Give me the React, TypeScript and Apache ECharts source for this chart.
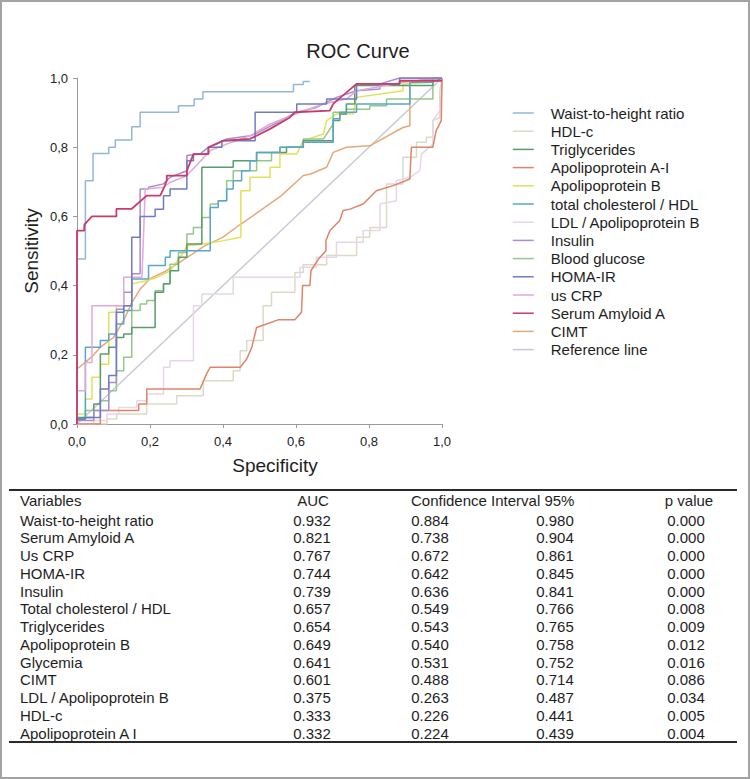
import React, { useEffect, useRef } from "react";
import * as echarts from "echarts";

const FONT = "'Liberation Sans', Arial, Helvetica, sans-serif";

// ---------- Curve data (x = 1 - specificity, y = sensitivity) ----------
const waistToHeightRatio = [[0,0],[0,0.477],[0.023,0.477],[0.023,0.703],[0.044,0.703],[0.044,0.782],[0.087,0.782],[0.087,0.8],[0.105,0.8],[0.105,0.821],[0.15,0.821],[0.15,0.859],[0.173,0.859],[0.173,0.901],[0.278,0.901],[0.278,0.92],[0.321,0.92],[0.321,0.939],[0.345,0.939],[0.345,0.96],[0.593,0.96],[0.593,0.981],[0.62,0.981],[0.62,0.99],[0.638,0.99]];
const hdlC = [[0,0],[0.082,0],[0.082,0.0145],[0.109,0.0145],[0.109,0.029],[0.191,0.029],[0.191,0.058],[0.273,0.058],[0.273,0.082],[0.346,0.082],[0.346,0.125],[0.428,0.125],[0.428,0.154],[0.447,0.154],[0.447,0.212],[0.465,0.212],[0.465,0.241],[0.51,0.241],[0.51,0.342],[0.533,0.342],[0.533,0.381],[0.597,0.381],[0.597,0.438],[0.62,0.438],[0.62,0.46],[0.684,0.46],[0.684,0.487],[0.766,0.487],[0.766,0.54],[0.802,0.54],[0.802,0.568],[0.848,0.568],[0.848,0.694],[0.893,0.694],[0.893,0.771],[0.93,0.771],[0.93,0.814],[0.957,0.814],[0.957,0.829],[0.975,0.829],[0.975,0.877],[0.994,0.886],[0.994,0.963],[1,1]];
const triglycerides = [[0,0],[0,0.019],[0.046,0.019],[0.046,0.058],[0.064,0.058],[0.064,0.202],[0.087,0.202],[0.087,0.222],[0.108,0.222],[0.108,0.25],[0.128,0.25],[0.128,0.26],[0.15,0.26],[0.15,0.279],[0.214,0.279],[0.214,0.381],[0.237,0.381],[0.237,0.405],[0.255,0.405],[0.255,0.443],[0.278,0.443],[0.278,0.482],[0.301,0.482],[0.301,0.52],[0.342,0.52],[0.342,0.742],[0.428,0.742],[0.428,0.761],[0.492,0.761],[0.492,0.785],[0.574,0.785],[0.574,0.8],[0.62,0.8],[0.62,0.819],[0.702,0.819],[0.702,0.877],[0.72,0.877],[0.72,0.896],[0.738,0.896],[0.738,0.925],[0.761,0.925],[0.761,0.978],[0.975,0.978],[0.975,1],[1,1]];
const apolipoproteinAI = [[0,0],[0.064,0],[0.064,0.039],[0.169,0.039],[0.169,0.058],[0.191,0.058],[0.191,0.101],[0.337,0.101],[0.355,0.145],[0.365,0.164],[0.447,0.164],[0.465,0.188],[0.479,0.222],[0.492,0.279],[0.551,0.301],[0.597,0.301],[0.615,0.323],[0.618,0.4],[0.638,0.4],[0.641,0.443],[0.661,0.476],[0.682,0.501],[0.682,0.53],[0.693,0.559],[0.72,0.588],[0.729,0.617],[0.748,0.621],[0.784,0.636],[0.82,0.674],[0.866,0.689],[0.912,0.708],[0.916,0.8],[0.975,0.8],[0.984,0.848],[0.998,0.877],[1,1]];
const apolipoproteinB = [[0,0],[0,0.029],[0.023,0.029],[0.023,0.072],[0.041,0.072],[0.041,0.135],[0.064,0.135],[0.064,0.173],[0.087,0.173],[0.087,0.323],[0.108,0.323],[0.108,0.342],[0.15,0.342],[0.15,0.405],[0.191,0.414],[0.219,0.424],[0.255,0.443],[0.283,0.482],[0.301,0.515],[0.346,0.52],[0.401,0.53],[0.449,0.54],[0.449,0.674],[0.474,0.674],[0.474,0.713],[0.529,0.713],[0.529,0.742],[0.556,0.742],[0.556,0.78],[0.602,0.78],[0.62,0.819],[0.675,0.838],[0.684,0.877],[0.711,0.896],[0.757,0.896],[0.766,0.944],[0.893,0.963],[0.893,0.983],[0.975,0.988],[1,1]];
const totalCholesterolHdl = [[0,0],[0,0.0145],[0.023,0.0145],[0.023,0.222],[0.064,0.222],[0.064,0.241],[0.087,0.241],[0.087,0.26],[0.108,0.26],[0.108,0.289],[0.128,0.289],[0.128,0.328],[0.15,0.328],[0.15,0.419],[0.196,0.419],[0.196,0.458],[0.242,0.458],[0.242,0.482],[0.255,0.482],[0.255,0.501],[0.365,0.501],[0.365,0.626],[0.387,0.626],[0.387,0.645],[0.41,0.645],[0.41,0.679],[0.428,0.679],[0.428,0.703],[0.451,0.703],[0.451,0.732],[0.474,0.732],[0.474,0.761],[0.492,0.761],[0.492,0.785],[0.556,0.785],[0.556,0.8],[0.62,0.8],[0.62,0.814],[0.702,0.814],[0.702,0.882],[0.72,0.882],[0.72,0.901],[0.766,0.901],[0.766,0.925],[0.912,0.925],[0.912,0.988],[0.975,0.988],[1,1]];
const ldlApolipoproteinB = [[0,0],[0.046,0],[0.046,0.01],[0.082,0.01],[0.082,0.029],[0.114,0.029],[0.114,0.048],[0.164,0.048],[0.164,0.067],[0.191,0.067],[0.191,0.087],[0.237,0.087],[0.237,0.164],[0.255,0.164],[0.255,0.183],[0.319,0.183],[0.319,0.342],[0.342,0.342],[0.342,0.376],[0.428,0.376],[0.428,0.424],[0.611,0.424],[0.611,0.453],[0.656,0.453],[0.656,0.482],[0.711,0.482],[0.711,0.525],[0.784,0.525],[0.784,0.559],[0.83,0.559],[0.83,0.636],[0.875,0.645],[0.875,0.703],[0.912,0.713],[0.939,0.732],[0.944,0.78],[0.975,0.809],[0.975,0.877],[0.994,0.906],[1,0.983],[1,1]];
const insulin = [[0,0],[0,0.01],[0.046,0.01],[0.046,0.039],[0.087,0.039],[0.087,0.12],[0.108,0.12],[0.108,0.332],[0.128,0.332],[0.128,0.381],[0.15,0.381],[0.15,0.434],[0.173,0.434],[0.173,0.679],[0.196,0.679],[0.196,0.684],[0.237,0.694],[0.255,0.713],[0.301,0.732],[0.301,0.776],[0.337,0.78],[0.36,0.8],[0.383,0.809],[0.41,0.824],[0.474,0.833],[0.488,0.838],[0.602,0.901],[0.656,0.915],[0.711,0.944],[0.766,0.963],[0.83,0.968],[0.83,0.983],[0.884,1],[1,1]];
const bloodGlucose = [[0,0],[0,0.0145],[0.023,0.0145],[0.023,0.039],[0.064,0.039],[0.064,0.067],[0.087,0.067],[0.087,0.096],[0.108,0.096],[0.108,0.154],[0.128,0.154],[0.128,0.193],[0.15,0.193],[0.15,0.328],[0.173,0.328],[0.173,0.347],[0.191,0.347],[0.191,0.357],[0.214,0.357],[0.214,0.385],[0.237,0.385],[0.237,0.405],[0.255,0.405],[0.255,0.462],[0.278,0.462],[0.278,0.496],[0.301,0.496],[0.301,0.549],[0.319,0.549],[0.319,0.568],[0.342,0.568],[0.342,0.597],[0.365,0.597],[0.365,0.636],[0.387,0.636],[0.387,0.645],[0.41,0.645],[0.41,0.703],[0.428,0.703],[0.428,0.732],[0.492,0.732],[0.492,0.761],[0.533,0.761],[0.533,0.785],[0.556,0.785],[0.556,0.8],[0.62,0.8],[0.62,0.824],[0.675,0.824],[0.702,0.867],[0.702,0.901],[0.738,0.901],[0.738,0.91],[0.802,0.91],[0.802,0.92],[0.848,0.92],[0.848,0.939],[0.975,0.939],[0.975,1],[1,1]];
const homaIr = [[0,0],[0,0.0145],[0.023,0.0145],[0.023,0.019],[0.064,0.019],[0.064,0.101],[0.087,0.101],[0.087,0.14],[0.108,0.14],[0.108,0.323],[0.128,0.323],[0.128,0.342],[0.15,0.342],[0.15,0.54],[0.173,0.54],[0.173,0.6],[0.214,0.6],[0.214,0.621],[0.237,0.621],[0.237,0.66],[0.255,0.66],[0.255,0.679],[0.301,0.679],[0.301,0.761],[0.319,0.761],[0.319,0.78],[0.36,0.78],[0.36,0.8],[0.397,0.8],[0.397,0.819],[0.488,0.819],[0.488,0.901],[0.602,0.901],[0.602,0.925],[0.684,0.925],[0.684,0.939],[0.766,0.939],[0.766,0.983],[0.884,0.983],[0.884,1],[1,1]];
const usCrp = [[0,0],[0,0.096],[0.023,0.096],[0.023,0.178],[0.041,0.178],[0.041,0.342],[0.128,0.342],[0.128,0.424],[0.178,0.424],[0.187,0.679],[0.237,0.684],[0.255,0.698],[0.301,0.718],[0.365,0.79],[0.41,0.809],[0.474,0.833],[0.529,0.867],[0.611,0.901],[0.675,0.925],[0.738,0.939],[0.766,0.963],[0.82,0.973],[0.893,0.988],[1,1]];
const serumAmyloidA = [[0,0],[0,0.559],[0.02,0.559],[0.02,0.576],[0.041,0.6],[0.108,0.6],[0.108,0.622],[0.15,0.622],[0.191,0.66],[0.228,0.66],[0.237,0.68],[0.246,0.703],[0.246,0.718],[0.301,0.718],[0.301,0.732],[0.319,0.78],[0.36,0.78],[0.36,0.8],[0.401,0.819],[0.474,0.824],[0.492,0.833],[0.529,0.853],[0.583,0.886],[0.597,0.901],[0.693,0.906],[0.702,0.925],[0.72,0.942],[0.766,0.983],[0.884,0.983],[0.884,0.992],[1,0.992]];
const cimt = [[0,0],[0,0.159],[0.023,0.178],[0.046,0.2],[0.064,0.222],[0.1,0.25],[0.128,0.3],[0.15,0.35],[0.173,0.39],[0.2,0.42],[0.24,0.44],[0.3,0.48],[0.35,0.515],[0.4,0.54],[0.449,0.578],[0.5,0.615],[0.56,0.66],[0.62,0.718],[0.638,0.722],[0.684,0.742],[0.702,0.785],[0.738,0.8],[0.802,0.804],[0.893,0.857],[0.912,0.862],[0.912,0.99],[1,1]];
const referenceLine = [[0,0],[1,1]];

const legendNames = [
  "Waist-to-height ratio", "HDL-c", "Triglycerides", "Apolipoprotein A-I",
  "Apolipoprotein B", "total cholesterol / HDL", "LDL / Apolipoprotein B",
  "Insulin", "Blood glucose", "HOMA-IR", "us CRP", "Serum Amyloid A", "CIMT", "Reference line",
];
const legendColors = [
  "#94b6dc", "#dcdac6", "#5a9c6c", "#df8468",
  "#e2e05a", "#5aa5cc", "#e6d6e8",
  "#a88dd0", "#92c88a", "#6f7cc2", "#e2a8dc", "#c83c68", "#e8a878", "#c6cad6",
];
const curves = [
  waistToHeightRatio, hdlC, triglycerides, apolipoproteinAI,
  apolipoproteinB, totalCholesterolHdl, ldlApolipoproteinB,
  insulin, bloodGlucose, homaIr, usCrp, serumAmyloidA, cimt, referenceLine,
];
// drawing order (indices into legendNames), bottom first
const drawOrder = [13, 1, 6, 3, 12, 4, 8, 2, 5, 0, 7, 10, 9, 11];

// ---------- Table data ----------
const tableHeaders = ["Variables", "AUC", "Confidence Interval 95%", "p value"];
const tableVariables = ["Waist-to-height ratio", "Serum Amyloid A", "Us CRP", "HOMA-IR", "Insulin", "Total cholesterol / HDL", "Triglycerides", "Apolipoprotein B", "Glycemia", "CIMT", "LDL / Apolipoprotein B", "HDL-c", "Apolipoprotein A I"];
const tableAUC = ["0.932", "0.821", "0.767", "0.744", "0.739", "0.657", "0.654", "0.649", "0.641", "0.601", "0.375", "0.333", "0.332"];
const tableCILower = ["0.884", "0.738", "0.672", "0.642", "0.636", "0.549", "0.543", "0.540", "0.531", "0.488", "0.263", "0.226", "0.224"];
const tableCIUpper = ["0.980", "0.904", "0.861", "0.845", "0.841", "0.766", "0.765", "0.758", "0.752", "0.714", "0.487", "0.441", "0.439"];
const tablePValue = ["0.000", "0.000", "0.000", "0.000", "0.000", "0.008", "0.009", "0.012", "0.016", "0.086", "0.034", "0.005", "0.004"];

export default function App() {
  const ref = useRef<HTMLDivElement>(null);

  useEffect(() => {
    if (!ref.current) return;
    const chart = echarts.init(ref.current, null, { renderer: "svg" });

    const txt = (text: string, x: number, y: number, align: string) => ({
      type: "text",
      x,
      y,
      silent: true,
      style: {
        text,
        fontSize: 15,
        fontFamily: FONT,
        fill: "#1e1e1e",
        textAlign: align,
        textVerticalAlign: "middle",
      },
    });

    const graphics: any[] = [
      {
        type: "rect",
        silent: true,
        shape: { x: 1, y: 1, width: 748, height: 777 },
        style: { fill: "none", stroke: "#a3a3a3", lineWidth: 2 },
      },
      { type: "line", silent: true, shape: { x1: 9, y1: 490, x2: 737, y2: 490 }, style: { stroke: "#2a2a2a", lineWidth: 2 } },
      { type: "line", silent: true, shape: { x1: 9, y1: 742, x2: 737, y2: 742 }, style: { stroke: "#2a2a2a", lineWidth: 2 } },
      txt(tableHeaders[0], 20, 500, "left"),
      txt(tableHeaders[1], 313, 500, "center"),
      txt(tableHeaders[2], 411, 500, "left"),
      txt(tableHeaders[3], 689, 500, "center"),
    ];
    tableVariables.forEach((v, i) => {
      const y = 520 + i * 17.75;
      graphics.push(txt(v, 20, y, "left"));
      graphics.push(txt(tableAUC[i], 312, y, "center"));
      graphics.push(txt(tableCILower[i], 430, y, "center"));
      graphics.push(txt(tableCIUpper[i], 555, y, "center"));
      graphics.push(txt(tablePValue[i], 686, y, "center"));
    });

    const axisCommon = {
      type: "value",
      min: 0,
      max: 1,
      interval: 0.2,
      axisLine: { show: true, lineStyle: { color: "#9a9a9a", width: 1 } },
      axisTick: { show: true, length: 4, lineStyle: { color: "#9a9a9a" } },
      splitLine: { show: false },
      axisLabel: {
        fontSize: 13,
        fontFamily: FONT,
        color: "#222222",
        formatter: (v: number) => v.toFixed(1).replace(".", ","),
      },
      nameLocation: "middle",
      nameTextStyle: { fontSize: 19, fontFamily: FONT, color: "#1e1e1e" },
    };

    chart.setOption({
      animation: false,
      backgroundColor: "#ffffff",
      textStyle: { fontFamily: FONT },
      title: {
        text: "ROC Curve",
        left: 353,
        top: 36,
        textAlign: "center",
        textStyle: { fontSize: 20, fontWeight: "normal", color: "#1e1e1e", fontFamily: FONT },
      },
      grid: { left: 77, top: 78, width: 365, height: 346, containLabel: false },
      xAxis: {
        ...axisCommon,
        name: "Specificity",
        nameGap: 32,
        axisLabel: { ...axisCommon.axisLabel, margin: 11 },
        nameTextStyle: { ...axisCommon.nameTextStyle, padding: [0, 0, 0, 31] },
      },
      yAxis: {
        ...axisCommon,
        name: "Sensitivity",
        nameGap: 36,
        nameRotate: 90,
        axisLabel: { ...axisCommon.axisLabel, margin: 9 },
      },
      legend: {
        show: true,
        orient: "vertical",
        left: 512,
        top: 104,
        padding: 0,
        itemWidth: 21,
        itemHeight: 18,
        itemGap: 0.2,
        selectedMode: false,
        data: legendNames,
        itemStyle: { opacity: 0, borderWidth: 0 },
        lineStyle: { width: 1.5 },
        textStyle: { fontSize: 15, color: "#1e1e1e", fontFamily: FONT, lineHeight: 18, padding: [0, 0, 0, 12] },
      },
      graphic: { elements: graphics },
      series: drawOrder.map((i) => ({
        name: legendNames[i],
        type: "line",
        data: curves[i],
        symbol: "none",
        showSymbol: false,
        silent: true,
        color: legendColors[i],
        lineStyle: { color: legendColors[i], width: i === 11 ? 1.8 : 1.5 },
        itemStyle: { color: legendColors[i] },
        emphasis: { disabled: true },
      })),
    });

    return () => chart.dispose();
  }, []);

  return (
    <div
      ref={ref}
      style={{ position: "absolute", left: 0, top: 0, width: "750px", height: "779px", background: "#fff" }}
    />
  );
}
